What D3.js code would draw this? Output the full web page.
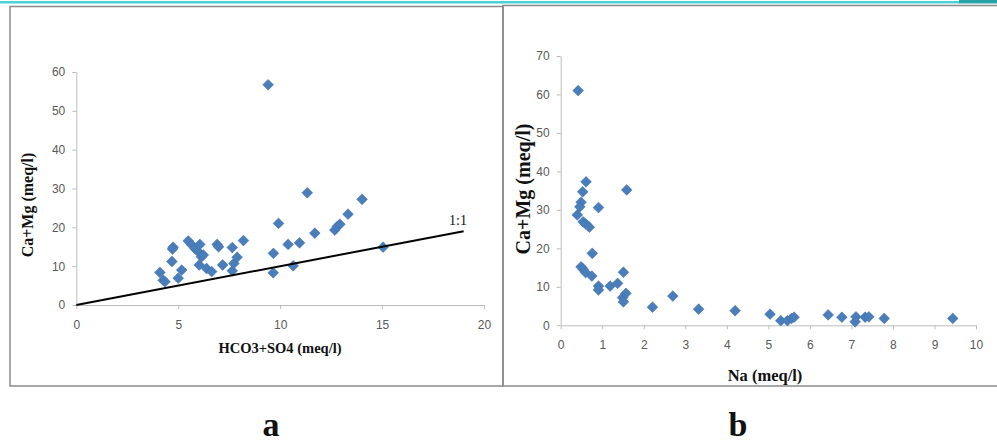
<!DOCTYPE html>
<html>
<head>
<meta charset="utf-8">
<script src="https://cdn.jsdelivr.net/npm/d3@7"></script>
<style>
  body { margin: 0; background: #fff; }
  .tick text { font-family: "Liberation Sans Narrow", "Liberation Sans", Arial, sans-serif; font-size: 12px; fill: #595959; }
  .tick line, .domain { stroke: #bcbcbc; }
  .title { font-family: "Liberation Serif", "Times New Roman", serif; font-weight: bold; fill: #111; }
</style>
</head>
<body>
<div id="chart"></div>
<script>
// panel a : Ca+Mg vs HCO3+SO4
var aX = [9.41, 4.10, 4.26, 4.35, 4.75, 4.72, 4.69, 5.0, 5.17, 5.49, 5.66, 5.82, 5.93, 6.06, 6.14, 6.03, 6.23, 6.39, 6.64, 6.91, 6.98, 7.18, 7.65, 7.65, 7.73, 7.89, 8.2, 9.67, 9.66, 9.92, 10.39, 10.64, 10.95, 11.33, 11.7, 12.68, 12.8, 12.93, 13.33, 14.02, 15.05];
var aY = [56.7, 8.4, 6.4, 6.0, 14.9, 14.4, 11.2, 6.9, 9.0, 16.5, 15.5, 14.6, 14.0, 15.6, 12.4, 10.3, 12.9, 9.4, 8.6, 15.6, 15.0, 10.3, 14.8, 8.8, 10.7, 12.3, 16.6, 13.3, 8.3, 21.0, 15.6, 10.1, 16.0, 28.9, 18.5, 19.3, 20.2, 20.8, 23.4, 27.2, 14.9];
var aXTicks = [0, 5, 10, 15, 20];
var aYTicks = [0, 10, 20, 30, 40, 50, 60];
var lineEnd = 19; // 1:1 line runs 0..19

// panel b : Ca+Mg vs Na
var bX = [0.42, 0.61, 0.53, 0.49, 0.46, 0.40, 0.54, 0.61, 0.69, 0.91, 1.59, 0.76, 0.49, 0.54, 0.60, 0.75, 0.91, 0.91, 1.19, 1.37, 1.51, 1.57, 1.49, 1.51, 2.21, 2.70, 3.32, 4.2, 5.04, 5.30, 5.46, 5.56, 5.62, 6.44, 6.77, 7.09, 7.11, 7.33, 7.42, 7.79, 9.44];
var bY = [61.0, 37.3, 34.7, 32.0, 30.8, 28.7, 26.9, 26.3, 25.5, 30.6, 35.2, 18.7, 15.2, 14.6, 13.7, 12.8, 10.2, 9.2, 10.2, 10.9, 13.8, 8.3, 7.2, 6.1, 4.7, 7.6, 4.2, 3.8, 2.9, 1.2, 1.2, 1.8, 2.1, 2.7, 2.1, 0.9, 2.2, 2.1, 2.2, 1.8, 1.8];
var bXTicks = [0, 1, 2, 3, 4, 5, 6, 7, 8, 9, 10];
var bYTicks = [0, 10, 20, 30, 40, 50, 60, 70];

var svg = d3.select("#chart").append("svg")
    .attr("width", 997)
    .attr("height", 443);

// slide header stripe
svg.append("rect").attr("x", 0).attr("y", 1).attr("width", 959).attr("height", 2.5).attr("fill", "#4fd2d6");
svg.append("rect").attr("x", 959).attr("y", 0).attr("width", 38).attr("height", 3.5).attr("fill", "#2aa3a6");

// frames
svg.append("rect").attr("x", 10).attr("y", 6.5).attr("width", 493).attr("height", 379.5)
    .attr("fill", "none").attr("stroke", "#8a8a8a").attr("stroke-width", 1.5);
svg.append("rect").attr("x", 503).attr("y", 5.5).attr("width", 500).attr("height", 380.5)
    .attr("fill", "none").attr("stroke", "#8a8a8a").attr("stroke-width", 1.5);

var diamond = d3.symbol().type(d3.symbolSquare).size(58);

function panel(xs, ys, xDom, yDom, xRange, yRange, xTicks, yTicks) {
  var x = d3.scaleLinear().domain(xDom).range(xRange);
  var y = d3.scaleLinear().domain(yDom).range(yRange);

  svg.append("g")
      .attr("transform", "translate(0," + yRange[0] + ")")
      .call(d3.axisBottom(x).tickValues(xTicks).tickSize(4).tickSizeOuter(0).tickPadding(11));
  svg.append("g")
      .attr("transform", "translate(" + xRange[0] + ",0)")
      .call(d3.axisLeft(y).tickValues(yTicks).tickSize(4).tickSizeOuter(0).tickPadding(7));

  svg.append("g").selectAll("path")
    .data(xs.map(function(d, i) { return [d, ys[i]]; }))
    .enter().append("path")
      .attr("d", diamond)
      .attr("transform", function(d) { return "translate(" + x(d[0]) + "," + y(d[1]) + ") rotate(45)"; })
      .attr("fill", "#4a7ebb")
      .attr("stroke", "#3f70ab")
      .attr("stroke-width", 0.5);
  return {x: x, y: y};
}

var a = panel(aX, aY, [0, 20], [0, 60], [76.3, 484], [305, 72], aXTicks, aYTicks);
var b = panel(bX, bY, [0, 10], [0, 70], [560.7, 976], [325.3, 56], bXTicks, bYTicks);

// 1:1 line
svg.append("line")
    .attr("x1", a.x(0)).attr("y1", a.y(0))
    .attr("x2", a.x(lineEnd)).attr("y2", a.y(lineEnd))
    .attr("stroke", "#000").attr("stroke-width", 2);
svg.append("text")
    .attr("x", 449).attr("y", 225)
    .style("font-family", "Liberation Serif, serif").style("font-size", "14px").style("fill", "#111")
    .text("1:1");

// axis titles
svg.append("text").attr("class", "title").attr("text-anchor", "middle")
    .attr("x", 280).attr("y", 353).style("font-size", "14.5px").text("HCO3+SO4 (meq/l)");
svg.append("text").attr("class", "title").attr("text-anchor", "middle")
    .attr("transform", "translate(33,205) rotate(-90)").style("font-size", "16px").text("Ca+Mg (meq/l)");
svg.append("text").attr("class", "title").attr("text-anchor", "middle")
    .attr("x", 765).attr("y", 381).style("font-size", "16.5px").text("Na (meq/l)");
svg.append("text").attr("class", "title").attr("text-anchor", "middle")
    .attr("transform", "translate(530,189) rotate(-90)").style("font-size", "20px").text("Ca+Mg (meq/l)");

// panel letters
svg.append("text").attr("class", "title").attr("text-anchor", "middle")
    .attr("x", 271).attr("y", 436).style("font-size", "34px").text("a");
svg.append("text").attr("class", "title").attr("text-anchor", "middle")
    .attr("x", 738).attr("y", 436).style("font-size", "34px").text("b");
</script>
</body>
</html>
